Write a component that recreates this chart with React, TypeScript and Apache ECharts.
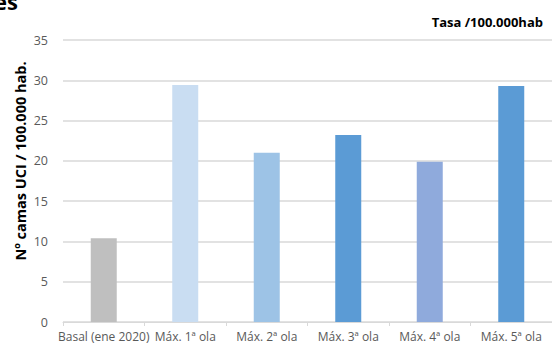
import React, { useEffect, useRef } from "react";
import * as echarts from "echarts";

const categories = [
  "Basal (ene 2020)",
  "Máx. 1ª ola",
  "Máx. 2ª ola",
  "Máx. 3ª ola",
  "Máx. 4ª ola",
  "Máx. 5ª ola",
];
const values = [10.4, 29.4, 21.0, 23.2, 19.9, 29.3];
const barColors = ["#BFBFBF", "#C9DDF2", "#9DC3E6", "#5B9BD5", "#8FAADC", "#5B9BD5"];
const yTicks = [0, 5, 10, 15, 20, 25, 30, 35];
const yAxisTitle = "Nº camas UCI / 100.000 hab.";

export default function App() {
  const ref = useRef<HTMLDivElement>(null);
  useEffect(() => {
    if (!ref.current) return;
    const chart = echarts.init(ref.current, undefined, { renderer: "svg" });
    chart.setOption({
      animation: false,
      backgroundColor: "#ffffff",
      textStyle: { fontFamily: "Open Sans" },
      graphic: [
        {
          type: "text",
          x: 18,
          y: 12,
          style: {
            text: "Camas UCI por fases",
            font: "bold 22px 'Open Sans'",
            fill: "#000000",
            align: "right",
            verticalAlign: "bottom",
          },
        },
        {
          type: "text",
          x: 543,
          y: 22,
          style: {
            text: "Tasa /100.000hab",
            font: "bold 13px 'Open Sans'",
            fill: "#000000",
            align: "right",
            verticalAlign: "middle",
          },
        },
        {
          type: "text",
          x: 20,
          y: 161,
          rotation: Math.PI / 2,
          style: {
            text: yAxisTitle,
            font: "bold 14.5px 'Open Sans'",
            fill: "#000000",
            align: "center",
            verticalAlign: "middle",
          },
        },
      ],
      grid: { left: 63, right: -6, top: 40, bottom: 26, containLabel: false },
      xAxis: {
        type: "category",
        data: categories,
        axisLine: { lineStyle: { color: "#D9D9D9", width: 1 } },
        axisTick: { show: true, length: 4, lineStyle: { color: "#D9D9D9" } },
        axisLabel: { color: "#595959", fontSize: 12, margin: 8, interval: 0, fontFamily: "Open Sans" },
      },
      yAxis: {
        type: "value",
        min: yTicks[0],
        max: yTicks[yTicks.length - 1],
        interval: 5,
        axisLine: { show: false },
        axisTick: { show: false },
        axisLabel: { color: "#595959", fontSize: 12.5, margin: 15, fontFamily: "Open Sans" },
        splitLine: { lineStyle: { color: "#D9D9D9", width: 1.5 } },
      },
      series: [
        {
          type: "bar",
          barWidth: 26,
          data: values.map((v, i) => ({ value: v, itemStyle: { color: barColors[i] } })),
        },
      ],
    });
    return () => chart.dispose();
  }, []);
  return <div ref={ref} style={{ width: 552, height: 348, position: "absolute", left: 0, top: 0 }} />;
}
